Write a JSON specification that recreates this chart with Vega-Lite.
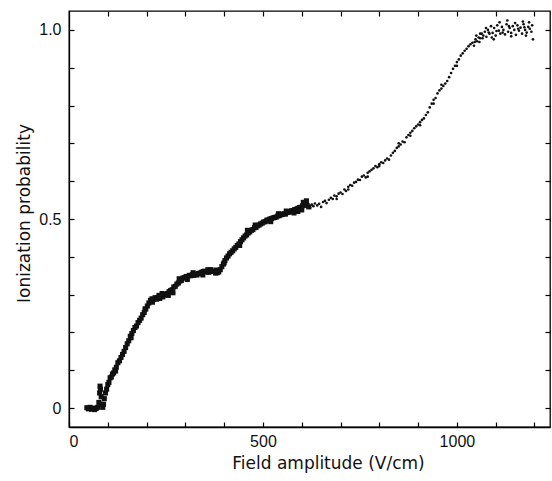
{
  "$schema": "https://vega.github.io/schema/vega-lite/v6.json",
  "width": 481,
  "height": 416,
  "padding": {"left": 69, "top": 11, "right": 2, "bottom": 54},
  "autosize": {"type": "none"},
  "background": "white",
  "config": {
    "view": {"stroke": "black", "strokeWidth": 1.3},
    "axis": {
      "labelFont": "Liberation Sans",
      "titleFont": "DejaVu Sans",
      "labelFontSize": 16,
      "titleFontSize": 17,
      "titleFontWeight": "normal",
      "labelColor": "#111",
      "titleColor": "#111",
      "domainColor": "black",
      "domainWidth": 1.3,
      "tickColor": "black",
      "tickWidth": 1.2,
      "grid": false
    }
  },
  "datasets": {
    "dense": [
      {"x":46,"y":0.001},{"x":50,"y":-0.002},{"x":54,"y":0.002},{"x":58,"y":-0.003},{"x":62,"y":0.0},{"x":66,"y":-0.004},{"x":70,"y":-0.001},{"x":74,"y":0.002},
      {"x":77,"y":0.015},{"x":79,"y":0.04},{"x":80,"y":0.058},{"x":81,"y":0.05},{"x":83,"y":0.03},{"x":85,"y":0.01},{"x":87,"y":0.002},{"x":89,"y":0.01},
      {"x":91,"y":0.025},{"x":94,"y":0.04},{"x":97,"y":0.05},{"x":100,"y":0.062},{"x":103,"y":0.068},{"x":106,"y":0.08},{"x":109,"y":0.082},{"x":112,"y":0.09},
      {"x":115,"y":0.093},{"x":118,"y":0.101},{"x":122,"y":0.108},{"x":126,"y":0.12},{"x":130,"y":0.125},{"x":134,"y":0.134},{"x":138,"y":0.142},{"x":142,"y":0.15},
      {"x":146,"y":0.16},{"x":150,"y":0.17},{"x":154,"y":0.178},{"x":158,"y":0.19},{"x":162,"y":0.197},{"x":166,"y":0.205},{"x":170,"y":0.213},{"x":174,"y":0.217},
      {"x":178,"y":0.226},{"x":182,"y":0.232},{"x":186,"y":0.238},{"x":190,"y":0.247},{"x":194,"y":0.253},{"x":198,"y":0.262},{"x":202,"y":0.27},{"x":206,"y":0.278},
      {"x":210,"y":0.285},{"x":214,"y":0.289},{"x":218,"y":0.287},{"x":222,"y":0.292},{"x":226,"y":0.288},{"x":230,"y":0.293},{"x":234,"y":0.29},{"x":238,"y":0.295},
      {"x":242,"y":0.294},{"x":246,"y":0.299},{"x":250,"y":0.301},{"x":254,"y":0.303},{"x":258,"y":0.308},{"x":262,"y":0.311},{"x":266,"y":0.313},{"x":270,"y":0.32},
      {"x":274,"y":0.322},{"x":278,"y":0.328},{"x":282,"y":0.331},{"x":286,"y":0.336},{"x":290,"y":0.338},{"x":294,"y":0.344},{"x":298,"y":0.345},{"x":302,"y":0.348},
      {"x":306,"y":0.347},{"x":310,"y":0.351},{"x":314,"y":0.35},{"x":318,"y":0.353},{"x":322,"y":0.351},{"x":326,"y":0.354},{"x":330,"y":0.352},{"x":334,"y":0.356},
      {"x":338,"y":0.357},{"x":342,"y":0.359},{"x":346,"y":0.361},{"x":350,"y":0.362},{"x":354,"y":0.36},{"x":358,"y":0.366},{"x":362,"y":0.364},{"x":366,"y":0.366},
      {"x":370,"y":0.361},{"x":374,"y":0.362},{"x":378,"y":0.357},{"x":382,"y":0.358},{"x":386,"y":0.36},{"x":390,"y":0.366},{"x":394,"y":0.374},{"x":398,"y":0.381},
      {"x":402,"y":0.39},{"x":406,"y":0.397},{"x":410,"y":0.402},{"x":414,"y":0.408},{"x":418,"y":0.412},{"x":422,"y":0.416},{"x":426,"y":0.421},{"x":430,"y":0.425},
      {"x":434,"y":0.43},{"x":438,"y":0.434},{"x":442,"y":0.44},{"x":446,"y":0.445},{"x":450,"y":0.45},{"x":454,"y":0.455},{"x":458,"y":0.458},{"x":462,"y":0.463},
      {"x":466,"y":0.466},{"x":470,"y":0.47},{"x":474,"y":0.472},{"x":478,"y":0.477},{"x":482,"y":0.478},{"x":486,"y":0.482},{"x":490,"y":0.484},{"x":494,"y":0.487},
      {"x":498,"y":0.489},{"x":502,"y":0.492},{"x":506,"y":0.493},{"x":510,"y":0.497},{"x":514,"y":0.497},{"x":518,"y":0.5},{"x":522,"y":0.501},{"x":526,"y":0.503},
      {"x":530,"y":0.504},{"x":534,"y":0.505},{"x":538,"y":0.508},{"x":542,"y":0.509},{"x":546,"y":0.511},{"x":550,"y":0.512},{"x":554,"y":0.514},{"x":558,"y":0.513},
      {"x":562,"y":0.517},{"x":566,"y":0.518},{"x":570,"y":0.519},{"x":574,"y":0.522},{"x":578,"y":0.522},{"x":582,"y":0.525},{"x":586,"y":0.526},{"x":590,"y":0.528},
      {"x":594,"y":0.53},{"x":598,"y":0.531},{"x":602,"y":0.535},{"x":606,"y":0.538},{"x":610,"y":0.54},{"x":614,"y":0.536},{"x":618,"y":0.532},
      {"x":215,"y":0.28},{"x":240,"y":0.303},{"x":268,"y":0.305},{"x":305,"y":0.34},{"x":345,"y":0.352},{"x":380,"y":0.365},{"x":460,"y":0.47},{"x":520,"y":0.493},
      {"x":560,"y":0.521},{"x":600,"y":0.524},{"x":612,"y":0.548},{"x":590,"y":0.52},
      {"x":120,"y":0.098},{"x":160,"y":0.186},{"x":196,"y":0.262},{"x":232,"y":0.298},{"x":256,"y":0.298},{"x":284,"y":0.342},{"x":320,"y":0.358},{"x":360,"y":0.359},
      {"x":400,"y":0.384},{"x":440,"y":0.43},{"x":480,"y":0.484},{"x":540,"y":0.514},{"x":580,"y":0.516},{"x":604,"y":0.544}
    ],
    "sparse": [
      {"x":622,"y":0.53},{"x":626,"y":0.538},{"x":630,"y":0.534},{"x":634,"y":0.541},{"x":640,"y":0.536},{"x":645,"y":0.54},{"x":650,"y":0.532},{"x":655,"y":0.545},
      {"x":660,"y":0.548},{"x":664,"y":0.542},{"x":670,"y":0.551},{"x":675,"y":0.556},{"x":680,"y":0.553},{"x":684,"y":0.562},{"x":690,"y":0.56},{"x":695,"y":0.567},
      {"x":700,"y":0.57},{"x":705,"y":0.566},{"x":710,"y":0.578},{"x":714,"y":0.574},{"x":720,"y":0.585},{"x":725,"y":0.59},{"x":730,"y":0.588},{"x":735,"y":0.596},
      {"x":740,"y":0.598},{"x":745,"y":0.604},{"x":750,"y":0.603},{"x":755,"y":0.612},{"x":760,"y":0.615},{"x":765,"y":0.61},{"x":770,"y":0.622},{"x":775,"y":0.626},
      {"x":780,"y":0.63},{"x":785,"y":0.634},{"x":790,"y":0.64},{"x":795,"y":0.637},{"x":800,"y":0.645},{"x":805,"y":0.65},{"x":810,"y":0.648},{"x":815,"y":0.655},
      {"x":820,"y":0.66},{"x":825,"y":0.657},{"x":830,"y":0.668},{"x":835,"y":0.675},{"x":840,"y":0.68},{"x":845,"y":0.688},{"x":850,"y":0.692},{"x":855,"y":0.697},
      {"x":860,"y":0.705},{"x":865,"y":0.703},{"x":870,"y":0.716},{"x":875,"y":0.722},{"x":880,"y":0.728},{"x":885,"y":0.733},{"x":890,"y":0.74},{"x":895,"y":0.745},
      {"x":900,"y":0.75},{"x":905,"y":0.756},{"x":910,"y":0.762},{"x":915,"y":0.766},{"x":920,"y":0.775},{"x":925,"y":0.782},{"x":930,"y":0.795},{"x":935,"y":0.805},
      {"x":940,"y":0.815},{"x":945,"y":0.82},{"x":950,"y":0.832},{"x":955,"y":0.84},{"x":960,"y":0.845},{"x":965,"y":0.852},{"x":970,"y":0.858},{"x":975,"y":0.865},
      {"x":980,"y":0.875},{"x":985,"y":0.886},{"x":990,"y":0.897},{"x":995,"y":0.905},{"x":1000,"y":0.915},{"x":1005,"y":0.922},{"x":1010,"y":0.932},{"x":1015,"y":0.938},
      {"x":1020,"y":0.945},{"x":1025,"y":0.95},{"x":1030,"y":0.957},{"x":1035,"y":0.962},{"x":1040,"y":0.966},{"x":1044,"y":0.958},{"x":1048,"y":0.975},{"x":1052,"y":0.97},
      {"x":1056,"y":0.98},{"x":1060,"y":0.978},{"x":1064,"y":0.99},{"x":1068,"y":0.985},{"x":1072,"y":0.995},{"x":1076,"y":0.982},{"x":1080,"y":1.0},{"x":1084,"y":0.99},
      {"x":1088,"y":1.01},{"x":1092,"y":0.992},{"x":1096,"y":1.005},{"x":1100,"y":0.985},{"x":1104,"y":1.012},{"x":1108,"y":0.998},{"x":1112,"y":0.99},{"x":1116,"y":1.008},
      {"x":1120,"y":1.0},{"x":1124,"y":0.988},{"x":1128,"y":1.015},{"x":1132,"y":0.995},{"x":1136,"y":1.005},{"x":1140,"y":0.992},{"x":1144,"y":1.01},{"x":1148,"y":1.0},
      {"x":1152,"y":0.987},{"x":1156,"y":1.012},{"x":1160,"y":0.998},{"x":1164,"y":1.006},{"x":1168,"y":0.99},{"x":1172,"y":1.015},{"x":1176,"y":1.0},{"x":1180,"y":0.993},
      {"x":1184,"y":1.008},{"x":1188,"y":1.003},{"x":1192,"y":0.995},{"x":1196,"y":0.975},{"x":1194,"y":1.012},{"x":1186,"y":1.02},{"x":1170,"y":1.022},{"x":1150,"y":1.018},
      {"x":1130,"y":1.025},{"x":1110,"y":1.02},{"x":1090,"y":0.98},{"x":1075,"y":1.005},{"x":1060,"y":0.99},{"x":1050,"y":0.985},{"x":1058,"y":0.968},{"x":1095,"y":0.975},
      {"x":1140,"y":0.983},{"x":1178,"y":0.985},{"x":770,"y":0.612},{"x":850,"y":0.7},{"x":905,"y":0.748},{"x":960,"y":0.855},{"x":1000,"y":0.905},{"x":940,"y":0.805},
      {"x":880,"y":0.72},{"x":800,"y":0.64},{"x":720,"y":0.578},{"x":690,"y":0.553},
      {"x":1102,"y":0.997},{"x":1118,"y":0.993},{"x":1134,"y":1.01},{"x":1158,"y":1.003},{"x":1174,"y":1.007},{"x":1082,"y":0.993},{"x":1066,"y":0.978},{"x":1046,"y":0.968}
    ]
  },
  "layer": [
    {
      "data": {"name": "dense"},
      "mark": {"type": "point", "shape": "square", "filled": true, "size": 26, "color": "#111", "opacity": 1},
      "encoding": {
        "x": {
          "field": "x", "type": "quantitative",
          "scale": {"domain": [0, 1240], "nice": false, "zero": false},
          "axis": {
            "orient": "bottom",
            "title": "Field amplitude (V/cm)",
            "values": [0,100,200,300,400,500,600,700,800,900,1000,1100,1200],
            "labelExpr": "datum.value % 500 === 0 ? datum.label : ''",
            "format": "d",
            "tickSize": -5,
            "labelPadding": 11,
            "titlePadding": 6,
            "titleX": 259
          }
        },
        "y": {
          "field": "y", "type": "quantitative",
          "scale": {"domain": [-0.05, 1.05], "nice": false, "zero": false},
          "axis": {
            "orient": "left",
            "title": "Ionization probability",
            "values": [0,0.1,0.2,0.3,0.4,0.5,0.6,0.7,0.8,0.9,1.0],
            "labelExpr": "abs(datum.value) < 0.001 ? '0' : abs(datum.value - 0.5) < 0.001 ? '0.5' : abs(datum.value - 1) < 0.001 ? '1.0' : ''",
            "tickSize": -5,
            "labelPadding": 13,
            "titlePadding": 5,
            "titleY": 202
          }
        }
      }
    },
    {
      "data": {"name": "sparse"},
      "mark": {"type": "point", "shape": "circle", "filled": true, "size": 7, "color": "#111", "opacity": 1},
      "encoding": {
        "x": {
          "field": "x", "type": "quantitative",
          "axis": {
            "orient": "top", "title": null, "labels": false, "domain": false,
            "values": [100,200,300,400,500,600,700,800,900,1000,1100,1200],
            "tickSize": -5
          }
        },
        "y": {
          "field": "y", "type": "quantitative",
          "axis": {
            "orient": "right", "title": null, "labels": false, "domain": false,
            "values": [0,0.1,0.2,0.3,0.4,0.5,0.6,0.7,0.8,0.9,1.0],
            "tickSize": -5
          }
        }
      }
    }
  ],
  "resolve": {"axis": {"x": "independent", "y": "independent"}}
}
